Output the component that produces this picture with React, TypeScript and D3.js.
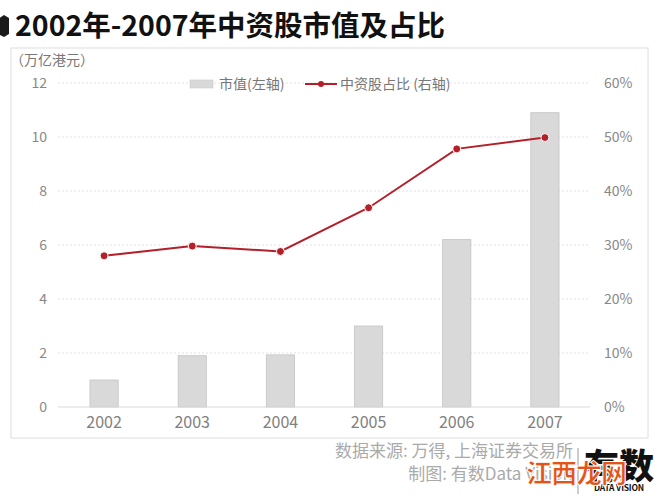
import React from "react";
import * as d3 from "d3";

const years = ["2002", "2003", "2004", "2005", "2006", "2007"];
const marketValue = [1.0, 1.9, 1.93, 3.0, 6.2, 10.9];
const sharePct = [28.0, 29.8, 28.8, 36.9, 47.8, 49.9];
const leftTicks = [0, 2, 4, 6, 8, 10, 12];
const rightTicks = [0, 10, 20, 30, 40, 50, 60];

const W = 660;
const H = 504;
const FONT = "'Noto Sans CJK SC', 'Noto Sans', sans-serif";
const RED = "#b3202a";

export default function App() {
  const x = d3.scaleBand<string>().domain(years).range([60, 589]).paddingInner(0.68).paddingOuter(0.34);
  const yL = d3.scaleLinear().domain([0, 12]).range([407, 83]);
  const yR = d3.scaleLinear().domain([0, 60]).range([407, 83]);
  const cx = (d: string) => (x(d) as number) + x.bandwidth() / 2;
  const line = d3
    .line<number>()
    .x((_, i) => cx(years[i]))
    .y((d) => yR(d));

  return (
    <svg
      width={W}
      height={H}
      style={{ position: "absolute", left: 0, top: 0, background: "#fff" }}
      fontFamily={FONT}
    >
      <rect width={W} height={H} fill="#fff" />
      {/* title marker */}
      <polygon points="-2,19 4,15 9,18 9,34 4,37 -2,34" fill="#1a1a1a" />
      <text x={15} y={36} fontSize={28.5} fontWeight={700} fill="#111">
        2002年-2007年中资股市值及占比
      </text>
      {/* frame */}
      <rect x={11} y={48} width={637} height={390} fill="none" stroke="#dedede" strokeWidth={1} />

      {/* unit label */}
      <text x={10} y={65} fontSize={14} fill="#777">
        （万亿港元）
      </text>

      {/* gridlines */}
      {leftTicks.map((t) =>
        t === 0 ? null : (
          <line
            key={t}
            x1={58}
            x2={590}
            y1={yL(t)}
            y2={yL(t)}
            stroke="#e2e2e2"
            strokeDasharray="2,2"
          />
        )
      )}

      {/* bars */}
      {years.map((yr, i) => (
        <rect
          key={yr}
          x={x(yr)}
          y={yL(marketValue[i])}
          width={x.bandwidth()}
          height={yL(0) - yL(marketValue[i])}
          fill="#d9d9d9"
          stroke="#c4c4c4"
          strokeWidth={0.8}
        />
      ))}
      <line x1={58} x2={590} y1={yL(0)} y2={yL(0)} stroke="#d9d9d9" />

      {/* line */}
      <path d={line(sharePct) || ""} fill="none" stroke={RED} strokeWidth={2} />
      {sharePct.map((v, i) => (
        <circle key={i} cx={cx(years[i])} cy={yR(v)} r={4} fill={RED} stroke="#fff" strokeWidth={1} />
      ))}

      {/* left ticks */}
      {leftTicks.map((t) => (
        <text key={t} x={47} y={yL(t)} dy="0.35em" textAnchor="end" fontSize={14} fill="#888">
          {t}
        </text>
      ))}
      {/* right ticks */}
      {rightTicks.map((t) => (
        <text key={t} x={604} y={yR(t)} dy="0.35em" textAnchor="start" fontSize={14} fill="#888">
          {t}%
        </text>
      ))}
      {/* x ticks */}
      {years.map((yr) => (
        <text key={yr} x={cx(yr)} y={422} dy="0.35em" textAnchor="middle" fontSize={16} fill="#808080">
          {yr}
        </text>
      ))}

      {/* legend */}
      <rect x={190} y={80} width={23} height={8} fill="#d9d9d9" stroke="#c8c8c8" strokeWidth={0.6} />
      <text x={219} y={84} dy="0.35em" fontSize={14} fill="#777">
        市值(左轴)
      </text>
      <line x1={305} x2={337} y1={84} y2={84} stroke={RED} strokeWidth={2} />
      <circle cx={321} cy={84} r={3} fill={RED} />
      <text x={340} y={84} dy="0.35em" fontSize={14} fill="#777">
        中资股占比 (右轴)
      </text>

      {/* footer */}
      <text x={573} y={451} dy="0.35em" textAnchor="end" fontSize={17} fill="#aaa">
        数据来源: 万得, 上海证券交易所
      </text>
      <text x={573} y={474} dy="0.35em" textAnchor="end" fontSize={17} fill="#aaa">
        制图: 有数Data Vision
      </text>
      <line x1={578} x2={578} y1={448} y2={494} stroke="#999" strokeWidth={1} />
      <text x={619} y={479} textAnchor="middle" fontSize={35} fontWeight={900} fill="#111">
        有数
      </text>
      <text x={619} y={491} textAnchor="middle" fontSize={8.5} fontWeight={700} fill="#111" letterSpacing={-0.2}>
        DATA VISION
      </text>

      {/* overlay watermark */}
      <text
        x={576}
        y={483}
        textAnchor="middle"
        fontSize={26}
        fontWeight={900}
        fill="#e2541a"
        stroke="#fff"
        strokeWidth={1}
        letterSpacing={-1}
      >
        江西龙网
      </text>
    </svg>
  );
}
